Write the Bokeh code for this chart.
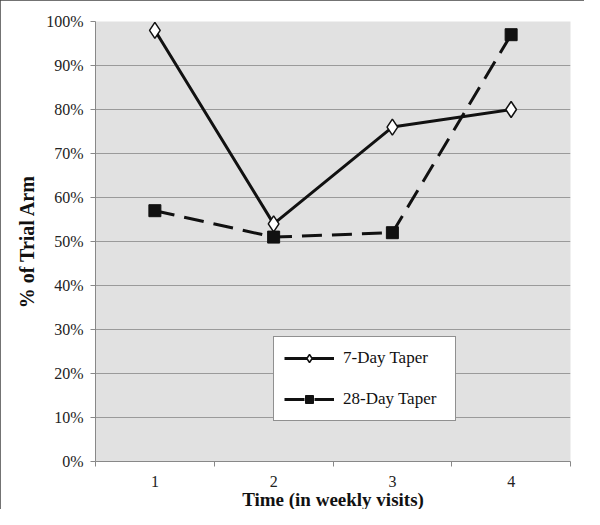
from bokeh.plotting import figure
from bokeh.models import FixedTicker, Range1d, Legend, LegendItem, NumeralTickFormatter, Label
from bokeh.embed import file_html
from bokeh.resources import INLINE

visits = [1, 2, 3, 4]
visit_labels = ["1", "2", "3", "4"]
taper7 = [0.98, 0.54, 0.76, 0.80]
taper28 = [0.57, 0.51, 0.52, 0.97]
y_ticks = [0.0, 0.1, 0.2, 0.3, 0.4, 0.5, 0.6, 0.7, 0.8, 0.9, 1.0]

FONT = "Liberation Serif"

p = figure(width=584, height=509, output_backend="svg", toolbar_location=None,
           x_range=Range1d(0.5, 4.5), y_range=Range1d(0, 1),
           min_border_left=95, min_border_right=14, min_border_top=20, min_border_bottom=48)
p.styles = {"outline": "2px solid #444", "outline-offset": "-2px"}

p.background_fill_color = "#e1e1e1"
p.border_fill_color = "white"
p.outline_line_color = None

# axes
p.xaxis.ticker = FixedTicker(ticks=visits, minor_ticks=[0.5, 1.5, 2.5, 3.5, 4.5])
p.xaxis.major_label_overrides = {v: l for v, l in zip(visits, visit_labels)}
p.xaxis.major_tick_out = 0
p.xaxis.major_tick_in = 0
p.xaxis.minor_tick_out = 5
p.xaxis.minor_tick_in = 0
p.xaxis.minor_tick_line_color = "#888888"
p.xaxis.axis_line_color = "#888888"
p.xaxis.major_label_standoff = 9

p.yaxis.ticker = FixedTicker(ticks=y_ticks)
p.yaxis.formatter = NumeralTickFormatter(format="0%")
p.yaxis.major_tick_out = 5
p.yaxis.major_tick_in = 0
p.yaxis.minor_tick_out = 0
p.yaxis.minor_tick_in = 0
p.yaxis.major_tick_line_color = "#888888"
p.yaxis.axis_line_color = "#888888"
p.yaxis.major_label_standoff = 7
p.yaxis.axis_label = "% of Trial Arm"
p.yaxis.axis_label_standoff = 5

for ax in (p.xaxis, p.yaxis):
    ax.major_label_text_font = FONT
    ax.major_label_text_font_size = "16px"
    ax.major_label_text_color = "#222222"
    ax.axis_label_text_font = FONT
    ax.axis_label_text_font_size = "20px"
    ax.axis_label_text_font_style = "bold"
    ax.axis_label_text_color = "#111111"

xlabel = Label(x=237.5, y=-478, x_units="screen", y_units="screen",
               text="Time (in weekly visits)", text_font=FONT, text_font_size="19px",
               text_font_style="bold", text_color="#111111", text_line_height=0.9,
               text_align="center", text_baseline="middle")
p.add_layout(xlabel, "above")

p.xgrid.grid_line_color = None
p.ygrid.grid_line_color = "#9a9a9a"
p.ygrid.grid_line_width = 1

# series
l7 = p.line(visits, taper7, line_color="#111111", line_width=3)
m7 = p.scatter(visits, taper7, marker="diamond", size=16, fill_color="white",
               line_color="#111111", line_width=1.5)
l28 = p.line(visits, taper28, line_color="#111111", line_width=3, line_dash="20 10")
m28 = p.scatter(visits, taper28, marker="square", size=12, fill_color="#111111",
                line_color="#111111")

legend = Legend(items=[LegendItem(label="7-Day Taper", renderers=[l7, m7]),
                       LegendItem(label="28-Day Taper", renderers=[l28, m28])],
                location=(178, 40), orientation="vertical")
legend.label_text_font = FONT
legend.label_text_font_size = "17px"
legend.label_text_color = "#111111"
legend.border_line_color = "#222222"
legend.border_line_width = 1.5
legend.background_fill_color = "white"
legend.background_fill_alpha = 1
legend.glyph_width = 50
legend.label_height = 22
legend.label_width = 102
legend.label_standoff = 9
legend.padding = 10
legend.spacing = 19
legend.margin = 0
p.add_layout(legend, "center")

open("out.html", "w").write(file_html(p, INLINE))
